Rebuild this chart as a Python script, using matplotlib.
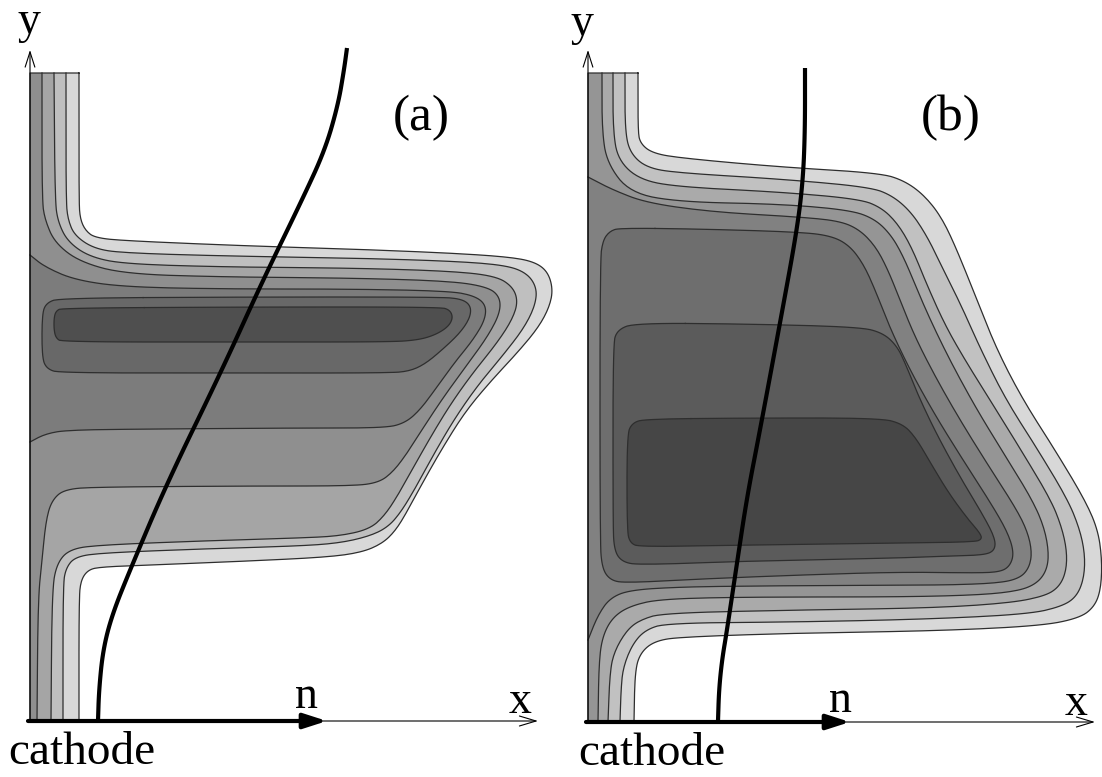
import numpy as np
import matplotlib
matplotlib.use('Agg')
import matplotlib.pyplot as plt

# ---- panel (a): contour lines (image pixels) ----
# open lines run from the top of the strip to the cathode (or wall to wall)
a_lines = [
    [(79, 73), (79, 200), (80, 218), (85, 230), (95, 238), (130, 241), (250, 246), (350, 249), (450, 253),
     (510, 257), (535, 262), (548, 272), (553, 290), (549, 308), (538, 328), (518, 352), (490, 382), (465, 412),
     (443, 447), (423, 482), (408, 510), (396, 530), (383, 543), (363, 552), (330, 557), (250, 561), (150, 565),
     (100, 567), (88, 570), (81, 580), (79, 598), (79, 721)],
    [(66, 73), (66, 200), (68, 220), (75, 236), (95, 249), (125, 253), (225, 256), (350, 258), (450, 261),
     (505, 265), (527, 273), (537, 288), (535, 306), (524, 328), (504, 354), (478, 385), (455, 418), (435, 452),
     (416, 487), (401, 512), (388, 527), (370, 536), (340, 543), (300, 546), (200, 549), (100, 553), (75, 557),
     (66, 568), (63, 585), (63, 721)],
    [(54, 73), (55, 200), (58, 222), (68, 242), (90, 257), (125, 264), (225, 267), (350, 268), (450, 271),
     (496, 276), (513, 287), (518, 302), (512, 320), (497, 343), (472, 374), (450, 405), (430, 438), (412, 470),
     (398, 495), (385, 515), (370, 529), (340, 536), (300, 538), (200, 541), (100, 545), (70, 549), (57, 563),
     (52, 590), (51, 721)],
    [(42, 73), (42, 200), (45, 220), (55, 243), (80, 262), (125, 274), (225, 277), (350, 278), (450, 281),
     (488, 287), (500, 297), (500, 313), (488, 336), (467, 365), (445, 395), (425, 425), (408, 452), (393, 472),
     (378, 483), (350, 486), (250, 486), (100, 487), (65, 489), (52, 500), (46, 520), (42, 560), (38, 600),
     (37, 721)],
    [(30, 255), (45, 267), (75, 280), (125, 287), (225, 289), (350, 289), (450, 291), (475, 296), (486, 305),
     (485, 320), (473, 340), (455, 362), (437, 387), (420, 410), (405, 423), (385, 428), (300, 428), (150, 429),
     (67, 430), (45, 434), (30, 442)],
]
a_closed = [
    [(60, 298), (250, 297), (440, 297), (462, 299), (471, 306), (470, 318), (460, 333), (442, 350), (425, 364),
     (410, 371), (390, 373), (250, 373), (60, 373), (47, 369), (42, 358), (42, 315), (46, 303)],
    [(62, 308), (250, 307), (440, 307), (450, 310), (453, 318), (448, 327), (435, 335), (418, 340), (390, 342),
     (250, 342), (62, 342), (56, 338), (54, 330), (54, 318), (56, 311)],
]
a_shades = ['#d8d8d8', '#bfbfbf', '#a5a5a5', '#8f8f8f', '#7c7c7c', '#686868', '#4f4f4f']
a_curve = [(98, 721), (99, 690), (103, 650), (112, 615), (130, 570), (167, 483), (222, 370), (263, 280),
           (302, 200), (325, 150), (338, 105), (344, 70), (347, 48)]

# ---- panel (b) ----
b_lines = [
    [(638, 73), (638, 130), (640, 143), (652, 153), (680, 158), (780, 167), (880, 173), (905, 181), (925, 196),
     (942, 218), (957, 250), (977, 300), (997, 350), (1023, 400), (1055, 450), (1085, 500), (1098, 530),
     (1102, 560), (1101, 588), (1095, 606), (1080, 618), (1040, 626), (933, 631), (800, 633), (680, 637),
     (655, 641), (641, 652), (635, 670), (634, 722)],
    [(625, 73), (625, 130), (630, 153), (647, 168), (680, 173), (780, 179), (870, 187), (893, 196), (912, 213),
     (928, 238), (941, 265), (961, 305), (981, 350), (1006, 400), (1038, 450), (1068, 500), (1080, 530),
     (1085, 555), (1084, 578), (1077, 596), (1063, 606), (1030, 614), (933, 619), (800, 622), (667, 623),
     (645, 630), (632, 645), (623, 668), (621, 690), (620, 722)],
    [(613, 73), (613, 130), (618, 160), (640, 180), (680, 187), (780, 192), (860, 199), (882, 208), (898, 224),
     (912, 248), (927, 285), (945, 325), (965, 360), (990, 400), (1021, 450), (1051, 500), (1062, 528),
     (1067, 552), (1066, 572), (1059, 587), (1045, 596), (1010, 603), (933, 608), (800, 610), (663, 613),
     (640, 620), (627, 630), (615, 650), (610, 670), (608, 722)],
    [(602, 73), (602, 130), (607, 163), (630, 193), (680, 202), (780, 204), (850, 210), (875, 219), (892, 236),
     (905, 260), (918, 292), (935, 330), (955, 370), (980, 415), (1008, 460), (1034, 503), (1045, 530),
     (1049, 555), (1046, 572), (1036, 584), (1018, 591), (980, 595), (900, 597), (747, 597), (660, 599),
     (630, 606), (613, 617), (603, 635), (599, 660), (598, 722)],
    [(588, 177), (613, 190), (647, 203), (713, 212), (800, 217), (840, 221), (860, 230), (876, 247), (888, 270),
     (900, 300), (915, 337), (936, 378), (960, 420), (988, 465), (1017, 510), (1028, 533), (1032, 553),
     (1029, 568), (1020, 578), (1000, 583), (950, 585), (900, 585), (750, 586), (680, 587), (630, 590),
     (610, 598), (598, 615), (588, 640)],
]
b_closed = [
    [(620, 228), (700, 229), (800, 232), (832, 236), (850, 246), (864, 265), (876, 292), (890, 328), (910, 370),
     (935, 415), (963, 460), (992, 505), (1008, 533), (1014, 553), (1010, 566), (1000, 572), (975, 573),
     (900, 572), (800, 575), (700, 579), (625, 583), (610, 580), (602, 568), (600, 540), (600, 260), (603, 240),
     (610, 231)],
    [(635, 323), (750, 324), (860, 327), (883, 333), (897, 346), (906, 365), (918, 395), (936, 433), (960, 477),
     (983, 515), (995, 538), (995, 550), (985, 555), (950, 556), (900, 558), (750, 561), (640, 565), (622, 562),
     (614, 550), (613, 520), (613, 345), (617, 330)],
    [(645, 419), (750, 418), (880, 418), (903, 424), (916, 438), (930, 462), (948, 492), (967, 518), (980, 533),
     (982, 539), (975, 542), (900, 543), (750, 545), (640, 547), (630, 543), (627, 530), (627, 435), (632, 423)],
]
b_shades = ['#d8d8d8', '#c1c1c1', '#aaaaaa', '#959595', '#818181', '#6e6e6e', '#5b5b5b', '#464646']
b_curve = [(718, 721), (719, 690), (722, 660), (727, 630), (737, 563), (747, 497), (760, 430), (780, 323),
           (797, 230), (803, 180), (805, 130), (805, 68)]

W, H = 1102, 777
FONT = 'Liberation Serif'
LINE = '#2e2e2e'


def chaikin(pts, n=3, closed=False):
    p = np.asarray(pts, float)
    for _ in range(n):
        if closed:
            q = np.roll(p, -1, axis=0)
            new = np.empty((2 * len(p), 2))
            new[0::2] = 0.75 * p + 0.25 * q
            new[1::2] = 0.25 * p + 0.75 * q
            p = new
        else:
            a, b = p[:-1], p[1:]
            mid = np.empty((2 * len(a), 2))
            mid[0::2] = 0.75 * a + 0.25 * b
            mid[1::2] = 0.25 * a + 0.75 * b
            p = np.vstack([p[:1], mid, p[-1:]])
    return p


def draw_panel(ax, x0, y0, top, lines, closed, shades, curve, xend, tip, label, lab_xy, n_xy, x_xy, y_xy, cat_xy):
    ax.set_xlim(-x0, W - x0)
    ax.set_ylim(y0 - H, y0)
    ax.axis('off')

    def conv(p):
        p = np.asarray(p, float)
        return np.column_stack([p[:, 0] - x0, y0 - p[:, 1]])

    k = 0
    for i, ln in enumerate(lines):
        c = conv(chaikin(ln))
        if ln[0][1] == top:     # strip line: close along the wall and the cathode
            poly = np.vstack([c, [[0, 0], [0, y0 - top]]])
        else:                   # wall to wall
            poly = c
        ax.fill(poly[:, 0], poly[:, 1], color=shades[k], lw=0, zorder=2 + k)
        if i == 0:
            ax.plot(np.append(poly[:, 0], poly[0, 0]), np.append(poly[:, 1], poly[0, 1]),
                    color=LINE, lw=0.9, zorder=20)
        else:
            ax.plot(c[:, 0], c[:, 1], color=LINE, lw=0.9, zorder=20)
        k += 1
    for cl in closed:
        c = conv(chaikin(cl, closed=True))
        ax.fill(c[:, 0], c[:, 1], color=shades[k], lw=0, zorder=2 + k)
        ax.plot(np.append(c[:, 0], c[0, 0]), np.append(c[:, 1], c[0, 1]), color=LINE, lw=0.9, zorder=20)
        k += 1

    cv = conv(chaikin(curve, 3))
    ax.plot(cv[:, 0], cv[:, 1], color='black', lw=3, solid_capstyle='butt', zorder=30)

    # axes arrows
    ax.annotate('', xy=(0, y0 - 50), xytext=(0, -1), zorder=31,
                arrowprops=dict(arrowstyle='->,head_length=1.1,head_width=0.35', lw=0.8, color='black',
                                shrinkA=0, shrinkB=0))
    ax.annotate('', xy=(xend - x0, 0), xytext=(0, 0), zorder=31,
                arrowprops=dict(arrowstyle='->,head_length=1.2,head_width=0.36', lw=0.8, color='black',
                                shrinkA=0, shrinkB=0))
    ax.annotate('', xy=(tip - x0, 0), xytext=(-2, 0), zorder=32,
                arrowprops=dict(arrowstyle='-|>,head_length=1.4,head_width=0.45', lw=3, color='black',
                                shrinkA=0, shrinkB=0))

    ax.text(lab_xy[0] - x0, y0 - lab_xy[1], label, ha='center', va='center', fontsize=37, family=FONT)
    ax.text(n_xy[0] - x0, y0 - n_xy[1], 'n', ha='center', va='baseline', fontsize=33, family=FONT)
    ax.text(x_xy[0] - x0, y0 - x_xy[1], 'x', ha='center', va='baseline', fontsize=33, family=FONT)
    ax.text(y_xy[0] - x0, y0 - y_xy[1], 'y', ha='center', va='baseline', fontsize=33, family=FONT)
    ax.text(cat_xy[0] - x0, y0 - cat_xy[1], 'cathode', ha='left', va='baseline', fontsize=34, family=FONT)


fig = plt.figure(figsize=(W / 100, H / 100), dpi=100)
ax_a = fig.add_axes([0, 0, 1, 1])
ax_b = fig.add_axes([0, 0, 1, 1])
ax_b.patch.set_alpha(0)

draw_panel(ax_a, 30, 721, 73, a_lines, a_closed, a_shades, a_curve, 538, 327, '(a)',
           (421, 118), (307, 708), (520, 713), (29, 33), (8, 764))
draw_panel(ax_b, 588, 722, 73, b_lines, b_closed, b_shades, b_curve, 1095, 850, '(b)',
           (951, 118), (841, 712), (1076, 715), (582, 35), (578, 765))

fig.savefig('out.png', dpi=100, facecolor='white')
